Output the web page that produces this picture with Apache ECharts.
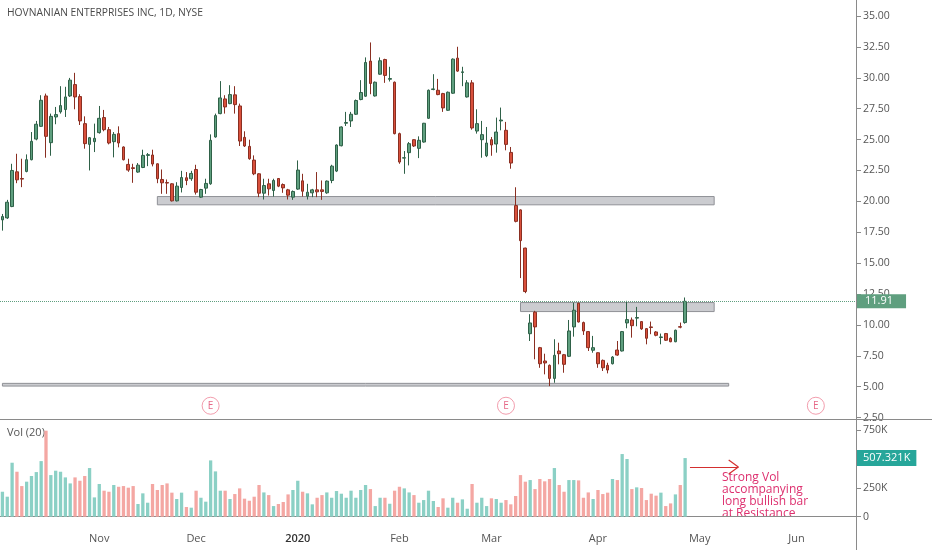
<!DOCTYPE html>
<html>
<head>
<meta charset="utf-8">
<script src="https://cdn.jsdelivr.net/npm/echarts@6/dist/echarts.min.js"></script>
<style>
html,body{margin:0;padding:0;background:#fff;}
#c{width:932px;height:550px;}
</style>
</head>
<body>
<div id="c"></div>
<script>
// Trading-day categories (Oct 2019 - Jun 2020)
const dates = [
'2019-10-04','2019-10-07','2019-10-08','2019-10-09','2019-10-10','2019-10-11','2019-10-14','2019-10-15','2019-10-16','2019-10-17','2019-10-18','2019-10-21','2019-10-22','2019-10-23','2019-10-24','2019-10-25','2019-10-28','2019-10-29','2019-10-30','2019-10-31',
'2019-11-01','2019-11-04','2019-11-05','2019-11-06','2019-11-07','2019-11-08','2019-11-11','2019-11-12','2019-11-13','2019-11-14','2019-11-15','2019-11-18','2019-11-19','2019-11-20','2019-11-21','2019-11-22','2019-11-25','2019-11-26','2019-11-27','2019-11-29',
'2019-12-02','2019-12-03','2019-12-04','2019-12-05','2019-12-06','2019-12-09','2019-12-10','2019-12-11','2019-12-12','2019-12-13','2019-12-16','2019-12-17','2019-12-18','2019-12-19','2019-12-20','2019-12-23','2019-12-24','2019-12-26','2019-12-27','2019-12-30','2019-12-31',
'2020-01-02','2020-01-03','2020-01-06','2020-01-07','2020-01-08','2020-01-09','2020-01-10','2020-01-13','2020-01-14','2020-01-15','2020-01-16','2020-01-17','2020-01-21','2020-01-22','2020-01-23','2020-01-24','2020-01-27','2020-01-28','2020-01-29','2020-01-30','2020-01-31',
'2020-02-03','2020-02-04','2020-02-05','2020-02-06','2020-02-07','2020-02-10','2020-02-11','2020-02-12','2020-02-13','2020-02-14','2020-02-18','2020-02-19','2020-02-20','2020-02-21','2020-02-24','2020-02-25','2020-02-26','2020-02-27','2020-02-28',
'2020-03-02','2020-03-03','2020-03-04','2020-03-05','2020-03-06','2020-03-09','2020-03-10','2020-03-11','2020-03-12','2020-03-13','2020-03-16','2020-03-17','2020-03-18','2020-03-19','2020-03-20','2020-03-23','2020-03-24','2020-03-25','2020-03-26','2020-03-27','2020-03-30','2020-03-31',
'2020-04-01','2020-04-02','2020-04-03','2020-04-06','2020-04-07','2020-04-08','2020-04-09','2020-04-13','2020-04-14','2020-04-15','2020-04-16','2020-04-17','2020-04-20','2020-04-21','2020-04-22','2020-04-23','2020-04-24','2020-04-27','2020-04-28','2020-04-29','2020-04-30',
'2020-05-01','2020-05-04','2020-05-05','2020-05-06','2020-05-07','2020-05-08','2020-05-11','2020-05-12','2020-05-13','2020-05-14','2020-05-15','2020-05-18','2020-05-19','2020-05-20','2020-05-21','2020-05-22','2020-05-26','2020-05-27','2020-05-28','2020-05-29',
'2020-06-01','2020-06-02','2020-06-03','2020-06-04','2020-06-05','2020-06-08','2020-06-09','2020-06-10','2020-06-11','2020-06-12','2020-06-15','2020-06-16','2020-06-17'
];

// Month tick labels on the time axis
const monthTicks = {
  '2019-11-01':'Nov','2019-12-02':'Dec','2020-01-02':'2020','2020-02-03':'Feb',
  '2020-03-02':'Mar','2020-04-01':'Apr','2020-05-01':'May','2020-06-01':'Jun'
};

// OHLC as [open, close, low, high]
const ohlc = [
[18.50,18.77,17.63,18.98],[18.66,19.93,18.58,20.12],[19.58,22.50,19.53,23.04],[22.39,21.74,21.47,23.85],[21.85,21.80,21.15,23.45],
[22.42,23.37,22.35,23.80],[23.37,24.86,23.32,25.61],[25.04,26.24,24.94,26.51],[26.07,28.18,26.02,28.59],[28.53,25.26,23.53,28.72],
[24.75,26.88,23.69,27.10],[26.83,27.02,26.24,27.64],[27.24,27.75,27.10,29.32],[27.43,28.45,26.83,29.27],[28.53,29.81,28.45,29.99],
[29.45,28.45,27.45,30.40],[28.48,26.51,26.18,28.67],[26.29,24.67,24.26,26.88],[24.61,25.15,22.50,25.21],[24.83,25.10,23.99,26.29],
[25.56,26.72,25.48,27.72],[26.78,25.80,25.67,27.40],[25.80,24.72,24.61,26.02],[24.83,25.42,23.56,25.61],[25.48,24.72,24.37,26.07],
[24.40,23.37,23.31,24.45],[22.99,22.53,22.39,23.45],[22.72,22.66,21.50,23.04],[22.37,22.93,22.31,23.10],[22.74,23.72,22.69,24.18],
[23.72,23.78,22.85,23.91],[23.75,23.02,22.83,24.18],[23.04,21.83,21.47,23.07],[21.77,21.50,20.61,22.58],[21.52,21.48,20.61,21.77],
[21.42,20.04,19.99,21.47],[20.04,21.23,19.99,21.55],[21.12,21.93,20.72,22.47],[21.91,21.69,21.31,22.37],[21.83,22.26,21.66,22.47],
[22.58,20.74,20.55,22.96],[20.34,20.96,20.28,21.01],[21.07,21.45,20.61,21.83],[21.42,24.94,21.34,25.42],[25.21,26.94,25.15,27.10],
[27.10,28.37,27.05,29.73],[28.29,27.64,27.10,28.59],[27.91,28.64,27.86,29.40],[28.62,27.83,27.10,29.32],[27.72,24.88,24.48,27.91],
[25.18,24.48,24.40,25.67],[24.45,23.45,23.37,24.99],[23.34,22.23,22.12,23.72],[22.23,20.66,20.34,22.28],[20.66,21.28,20.15,21.83],
[21.42,21.01,20.47,21.83],[20.88,21.69,20.39,21.83],[21.85,21.23,21.15,21.88],[21.36,21.09,20.69,21.45],[20.93,20.50,20.15,21.01],
[20.34,20.80,20.12,20.88],[20.99,22.53,20.93,23.31],[21.66,20.82,20.39,22.23],[20.42,20.74,20.15,21.42],[20.69,20.93,20.34,21.01],
[20.93,20.77,20.34,22.37],[20.93,20.80,20.12,21.69],[20.69,21.64,20.61,21.69],[21.69,22.85,21.47,22.96],[22.45,24.56,22.37,24.61],
[24.50,26.02,24.45,26.07],[26.32,26.38,26.10,27.24],[26.51,27.05,26.02,27.24],[27.05,28.16,26.99,28.24],[28.24,28.81,28.18,29.81],
[28.51,31.24,28.45,31.65],[31.35,29.54,28.67,32.86],[28.53,29.64,28.48,29.70],[30.29,31.38,30.24,31.65],[31.48,30.19,29.59,31.54],
[29.88,29.94,29.70,30.89],[29.64,25.48,25.42,29.70],[25.48,23.18,23.04,25.56],[23.50,23.53,22.23,24.07],[23.94,24.67,22.91,24.80],
[24.99,24.48,24.40,25.02],[24.29,24.94,23.50,25.26],[24.80,26.32,24.75,26.35],[26.72,28.99,26.67,29.05],[29.05,29.10,28.99,30.29],
[28.99,28.64,28.59,29.91],[28.72,27.56,27.24,28.78],[27.37,28.83,27.32,28.89],[28.75,31.51,28.70,31.57],[31.59,30.54,30.48,32.51],
[30.43,30.48,29.32,30.89],[28.45,29.59,28.40,29.81],[29.59,25.94,25.80,29.81],[25.69,26.29,25.48,27.45],[24.99,25.40,23.53,26.51],
[23.69,24.72,23.58,26.02],[24.99,24.56,23.69,25.21],[24.64,25.61,23.94,26.78],[26.51,26.58,25.75,27.59],[25.75,24.61,24.13,26.43],
[23.96,23.10,22.64,24.40],[19.66,18.38,18.30,21.14],[19.31,16.82,13.79,19.35],[16.22,12.70,12.57,16.25],[9.29,10.16,8.70,10.87],
[11.03,9.84,7.22,11.14],[8.16,6.86,6.53,8.22],[7.08,6.92,6.00,7.67],[6.73,5.67,5.05,6.80],[5.67,7.54,5.32,8.84],
[7.89,7.67,6.81,8.56],[7.59,6.81,6.13,7.65],[7.46,9.51,7.40,10.40],[9.84,11.19,9.05,11.80],[11.76,10.24,10.20,11.80],
[10.19,9.51,9.19,10.27],[9.46,8.16,7.89,9.51],[7.95,8.16,7.75,9.11],[7.75,6.86,6.53,7.78],[7.13,6.53,6.27,7.20],
[6.73,6.35,6.08,6.94],[6.86,7.40,6.80,7.48],[7.97,7.56,7.50,8.70],[7.89,9.46,7.85,9.51],[10.16,10.43,9.73,11.95],
[10.40,9.94,8.97,10.60],[10.55,10.60,9.89,11.46],[10.27,9.68,9.60,10.30],[9.70,8.92,8.43,9.75],[9.84,9.79,9.25,10.27],
[9.43,9.16,9.08,9.50],[8.98,9.03,8.43,9.30],[9.30,8.76,8.70,9.35],[8.92,8.64,8.60,9.00],[8.64,9.57,8.60,9.62],
[9.86,9.82,9.73,10.19],[10.19,11.91,10.10,12.22]
];

// Volume in thousands of shares
const volumeK = [
216,173,467,389,265,303,352,386,481,744,
360,398,389,340,288,340,311,352,421,167,
283,225,216,274,259,265,251,265,110,202,
121,283,231,274,288,208,153,208,84,78,
225,164,130,487,392,225,225,153,196,245,
156,138,173,274,210,187,92,110,127,193,
231,311,216,202,107,164,187,210,164,222,
199,164,225,164,231,274,239,92,164,164,
112,225,259,245,210,187,121,144,225,136,
84,159,78,164,121,150,69,283,121,164,
92,159,153,121,144,107,179,360,303,317,
239,326,306,326,421,274,216,317,317,314,
164,210,153,231,196,208,326,317,542,499,
239,254,248,144,199,182,208,92,115,193,
274,507.321
];

// Price tick values (right scale)
const priceTicks = [2.5,5,7.5,10,12.5,15,17.5,20,22.5,25,27.5,30,32.5,35];
const volTicks = [0,250000,500000,750000];

// Support / resistance zones [startIdx, endIdx, top, bottom]
const zones = [
  [32,147,20.39,19.72],
  [107,147,11.81,11.08],
  [0,150,5.27,5.05]
];
// Earnings markers (date index)
const earningsIdx = [43,104,168];
const lastPrice = 11.91;
const lastVolume = 507321;

const UP = '#5f9f7f', UPB = '#2f6148', DN = '#d9503c', DNB = '#8a2f22';
const VUP = '#8bd0c5', VDN = '#f4a7a3';

const volData = volumeK.map((v,i)=>({
  value: v*1000,
  itemStyle:{color: ohlc[i][1] >= ohlc[i][0] ? VUP : VDN}
}));

const chart = echarts.init(document.getElementById('c'), null, {renderer:'canvas'});
const font = 'Open Sans';

const option = {
  animation:false,
  backgroundColor:'#ffffff',
  textStyle:{fontFamily:font},
  grid:[
    {left:0, right:75, top:16, height:401.6},
    {left:0, right:75, top:430, height:86.7}
  ],
  xAxis:[
    {type:'category', gridIndex:0, data:dates, boundaryGap:true, show:false},
    {type:'category', gridIndex:1, data:dates, boundaryGap:true, offset:9,
      axisLine:{lineStyle:{color:'#8a8a8a', width:1}},
      axisTick:{alignWithLabel:true, length:3, lineStyle:{color:'#8a8a8a'},
        interval:(i,v)=>monthTicks[v]!==undefined},
      axisLabel:{interval:(i,v)=>monthTicks[v]!==undefined, margin:8,
        formatter:(v)=> v==='2020-01-02' ? '{y|2020}' : (monthTicks[v]||''),
        color:'#555', fontSize:11, fontFamily:font,
        rich:{y:{color:'#333', fontSize:11, fontWeight:600, fontFamily:font}}},
      splitLine:{show:false}
    }
  ],
  yAxis:[
    {type:'value', gridIndex:0, position:'right', min:priceTicks[0], max:priceTicks[priceTicks.length-1], interval:2.5,
      axisLine:{show:false}, splitLine:{show:false},
      axisTick:{show:true, length:4, lineStyle:{color:'#8a8a8a'}},
      axisLabel:{formatter:(v)=>v.toFixed(2), color:'#555', fontSize:10.5, margin:6, fontFamily:font}
    },
    {type:'value', gridIndex:1, position:'right', min:volTicks[0], max:volTicks[volTicks.length-1], interval:250000,
      axisLine:{show:false}, splitLine:{show:false},
      axisTick:{show:true, length:4, lineStyle:{color:'#8a8a8a'}},
      axisLabel:{formatter:(v)=> v===0 ? '0' : (v/1000)+'K', color:'#555', fontSize:10.5, margin:6, fontFamily:font}
    }
  ],
  series:[
    {
      type:'candlestick', name:'HOV', xAxisIndex:0, yAxisIndex:0, data:ohlc, barWidth:3.2,
      itemStyle:{color:UP, color0:DN, borderColor:UPB, borderColor0:DNB, borderWidth:1},
      markArea:{
        silent:true,
        itemStyle:{color:'#cbccd0', borderColor:'#8f9196', borderWidth:1},
        data: zones.map(z=>[{xAxis:dates[z[0]], yAxis:z[2]},{xAxis:dates[z[1]], yAxis:z[3]}])
      },
      markLine:{
        silent:true, symbol:['none','none'],
        data:[{yAxis:lastPrice,
          lineStyle:{type:'dotted', color:'#5f9f7f', width:1},
          label:{show:true, position:'end', distance:0, formatter:lastPrice.toFixed(2),
            backgroundColor:'#5f9f7f', color:'#fff', padding:[2,13,1,8], fontSize:11, fontFamily:font}}]
      }
    },
    {
      type:'bar', name:'Vol', xAxisIndex:1, yAxisIndex:1, data:volData, barWidth:3.3,
      markLine:{
        silent:true, symbol:['none','none'],
        data:[
          {yAxis:lastVolume, lineStyle:{color:'rgba(0,0,0,0)', width:0},
            label:{show:true, position:'end', distance:0, formatter:(lastVolume/1000).toFixed(3)+'K',
              backgroundColor:'#26a69a', color:'#ffffff', opacity:1, padding:[3,6,2,6], fontSize:11, fontFamily:font}},
          [{coord:[dates[142],430000], lineStyle:{color:'#d32f2f', width:1.2, type:'solid'}, label:{show:false}},{coord:[dates[152],430000]}],
          [{coord:[dates[150],490000], lineStyle:{color:'#d32f2f', width:1.2, type:'solid'}, label:{show:false}},{coord:[dates[152],430000]}],
          [{coord:[dates[150],370000], lineStyle:{color:'#d32f2f', width:1.2, type:'solid'}, label:{show:false}},{coord:[dates[152],430000]}]
        ]
      }
    },
    {
      type:'scatter', name:'Earnings', xAxisIndex:0, yAxisIndex:0,
      data: earningsIdx.map(i=>[dates[i],3.46]),
      symbol:'circle', symbolSize:17,
      itemStyle:{color:'#fff', borderColor:'#ef8598', borderWidth:1},
      label:{show:true, position:'inside', formatter:'E', color:'#e0446a', fontSize:10, fontFamily:font}
    }
  ],
  graphic:[
    {type:'line', shape:{x1:856.5,y1:0,x2:856.5,y2:550}, style:{stroke:'#8a8a8a', lineWidth:1}, z:10},
    {type:'line', shape:{x1:0,y1:419.5,x2:932,y2:419.5}, style:{stroke:'#8a8a8a', lineWidth:1}, z:10},
    {type:'text', left:7, top:8, style:{text:'HOVNANIAN ENTERPRISES INC, 1D, NYSE', fill:'#4a4a4a', font:'10.3px "Open Sans"'}},
    {type:'text', left:7, top:427, style:{text:'Vol (20)', fill:'#555', font:'11px "Open Sans"'}},
    {type:'text', left:722, top:472, style:{text:'Strong Vol\naccompanying\nlong bullish bar\nat Resistance', fill:'#dd2f6e', font:'12px "Open Sans"', lineHeight:11.8}}
  ]
};
chart.setOption(option);
</script>
</body>
</html>
